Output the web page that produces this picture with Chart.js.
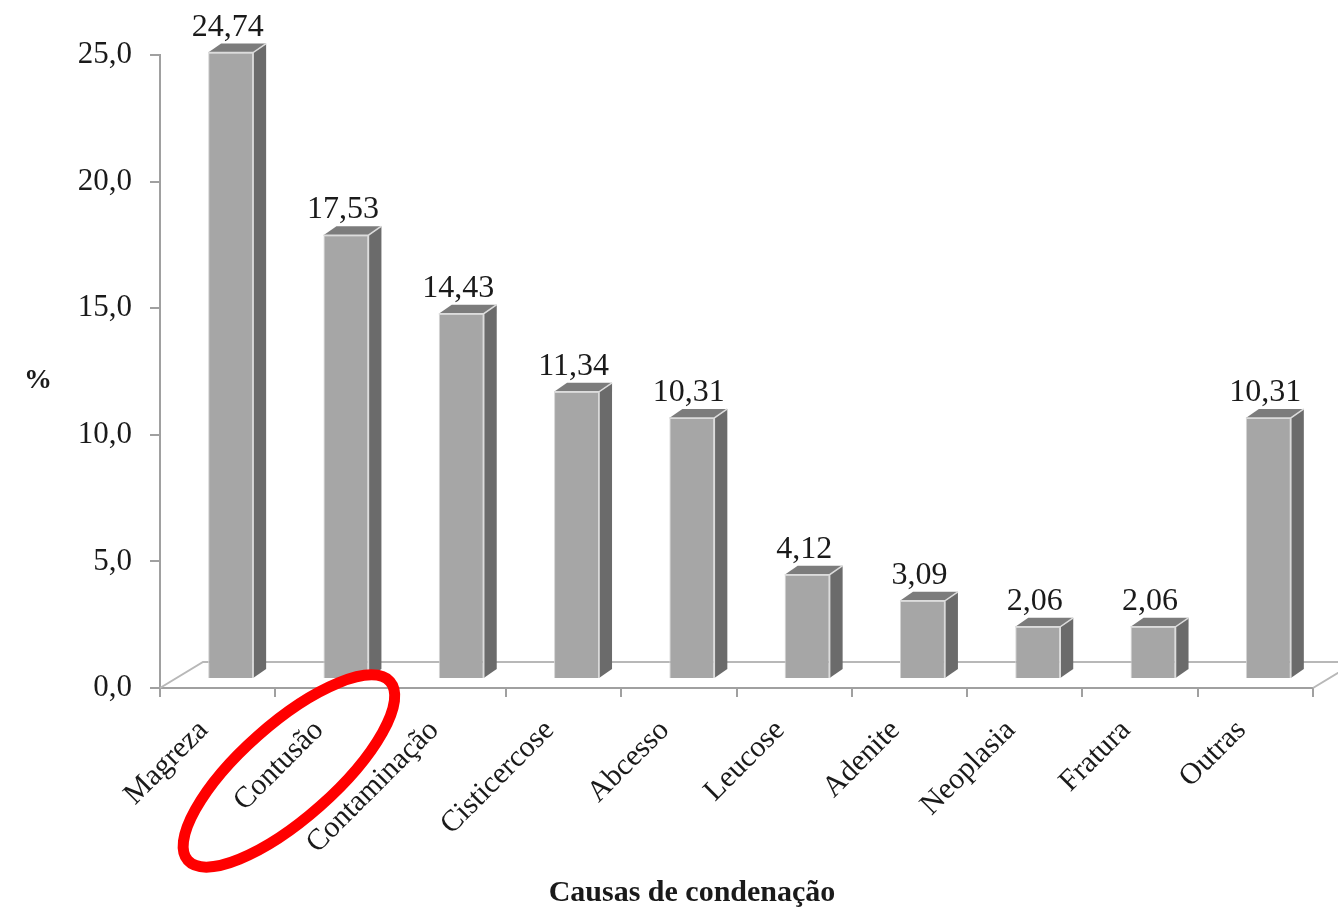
<!DOCTYPE html>
<html>
<head>
<meta charset="utf-8">
<script src="https://cdn.jsdelivr.net/npm/chart.js@4.4.1/dist/chart.umd.min.js"></script>
<style>
  html, body { margin: 0; padding: 0; background: #fff; }
</style>
</head>
<body>
<canvas id="myChart" width="1338" height="909"></canvas>
<script>
// categories and values
const causas = ['Magreza', 'Contusão', 'Contaminação', 'Cisticercose', 'Abcesso',
                'Leucose', 'Adenite', 'Neoplasia', 'Fratura', 'Outras'];
const percentuais = [24.74, 17.53, 14.43, 11.34, 10.31, 4.12, 3.09, 2.06, 2.06, 10.31];
const yTicks = [0, 5, 10, 15, 20, 25];

const axisColor = '#a0a0a0';
const serif = '"Liberation Serif", "Times New Roman", serif';
// depth of the fake 3d bars
const dx = 13, dy = 9;

// number in brazilian format
function fmt(v, d) {
    return v.toFixed(d).replace('.', ',');
}

// draws the floor, the 3d faces, the value labels and the red mark
const fake3d = {
    id: 'fake3d',
    beforeDatasetsDraw(chart) {
        const ctx = chart.ctx;
        const a = chart.chartArea;
        ctx.save();
        ctx.strokeStyle = '#b8b8b8';
        ctx.lineWidth = 2;
        ctx.beginPath();
        // left diagonal and back line of the floor
        ctx.moveTo(a.left, a.bottom);
        ctx.lineTo(a.left + 43, a.bottom - 26);
        ctx.lineTo(chart.width, a.bottom - 26);
        // right diagonal
        ctx.moveTo(a.right, a.bottom);
        ctx.lineTo(a.right + 43, a.bottom - 26);
        ctx.stroke();
        ctx.restore();
    },
    beforeDatasetDraw(chart) {
        chart.ctx.save();
        chart.ctx.translate(dx, -dy);
    },
    afterDatasetDraw(chart, args) {
        const ctx = chart.ctx;
        args.meta.data.forEach(function(bar) {
            const p = bar.getProps(['x', 'y', 'base', 'width'], true);
            const l = p.x - p.width / 2, r = p.x + p.width / 2;
            // side face
            ctx.fillStyle = '#6b6b6b';
            ctx.beginPath();
            ctx.moveTo(r, p.y);
            ctx.lineTo(r + dx, p.y - dy);
            ctx.lineTo(r + dx, p.base - dy);
            ctx.lineTo(r, p.base);
            ctx.closePath();
            ctx.fill();
            // top face
            ctx.fillStyle = '#7c7c7c';
            ctx.beginPath();
            ctx.moveTo(l, p.y);
            ctx.lineTo(l + dx, p.y - dy);
            ctx.lineTo(r + dx, p.y - dy);
            ctx.lineTo(r, p.y);
            ctx.closePath();
            ctx.fill();
            ctx.strokeStyle = '#dcdcdc';
            ctx.lineWidth = 1.5;
            ctx.beginPath();
            ctx.moveTo(l, p.y);
            ctx.lineTo(r, p.y);
            ctx.lineTo(r + dx, p.y - dy);
            ctx.moveTo(r, p.y);
            ctx.lineTo(r, p.base);
            ctx.stroke();
        });
        ctx.restore();

        // value labels above each bar
        ctx.save();
        ctx.font = '32px ' + serif;
        ctx.fillStyle = '#1a1a1a';
        ctx.textAlign = 'center';
        ctx.textBaseline = 'alphabetic';
        args.meta.data.forEach(function(bar, i) {
            ctx.fillText(fmt(percentuais[i], 2), bar.x + dx - 3, bar.y - 2 * dy - 8);
        });
        ctx.restore();
    },
    afterDraw(chart) {
        const ctx = chart.ctx;
        const a = chart.chartArea;
        const xs = chart.scales.x;
        ctx.save();
        // axis titles
        ctx.fillStyle = '#1a1a1a';
        ctx.font = 'bold 30px ' + serif;
        ctx.textAlign = 'center';
        ctx.textBaseline = 'alphabetic';
        ctx.fillText('Causas de condenação', 692, 901);
        ctx.font = 'bold 28px ' + serif;
        ctx.fillText('%', 38, 388);
        // red ellipse drawn round the "Contusão" label
        ctx.strokeStyle = '#ff0000';
        ctx.lineWidth = 11;
        ctx.beginPath();
        ctx.ellipse(xs.getPixelForValue(1) - 44, a.bottom + 83, 135, 47, -41.5 * Math.PI / 180, 0, 2 * Math.PI);
        ctx.stroke();
        ctx.restore();
    }
};

const chart = document.getElementById('myChart');
const myChart = new Chart(chart, {
    type: 'bar',
    data: {
        labels: causas,
        datasets: [{
            data: percentuais,
            backgroundColor: '#a6a6a6',
            borderColor: '#d4d4d4',
            borderWidth: 1,
            barPercentage: 0.39,
            categoryPercentage: 1
        }]
    },
    options: {
        responsive: false,
        animation: false,
        devicePixelRatio: 1,
        layout: { padding: { top: 55, right: 25, left: 0, bottom: 0 } },
        plugins: {
            legend: { display: false },
            tooltip: { enabled: false }
        },
        scales: {
            x: {
                grid: {
                    display: true,
                    drawOnChartArea: false,
                    drawTicks: true,
                    tickLength: 9,
                    color: axisColor,
                    lineWidth: 2
                },
                border: { display: true, color: axisColor, width: 2 },
                ticks: {
                    minRotation: 45,
                    maxRotation: 45,
                    padding: 16,
                    labelOffset: -14,
                    color: '#1a1a1a',
                    font: { family: serif, size: 30 }
                },
                afterFit(scale) { scale.height = 221; }
            },
            y: {
                min: 0,
                max: 25,
                afterBuildTicks(scale) {
                    scale.ticks = yTicks.map(v => ({ value: v }));
                },
                grid: {
                    display: true,
                    drawOnChartArea: false,
                    drawTicks: true,
                    tickLength: 10,
                    color: axisColor,
                    lineWidth: 2
                },
                border: { display: true, color: axisColor, width: 2 },
                ticks: {
                    padding: 18,
                    color: '#1a1a1a',
                    font: { family: serif, size: 31 },
                    callback: v => fmt(v, 1)
                },
                afterFit(scale) { scale.width = 160; }
            }
        }
    },
    plugins: [fake3d]
});
</script>
</body>
</html>
